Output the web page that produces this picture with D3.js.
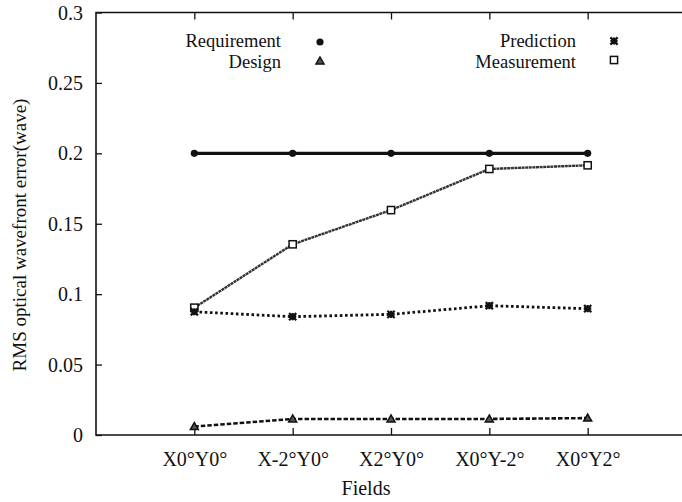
<!DOCTYPE html>
<html><head><meta charset="utf-8">
<script src="https://cdn.jsdelivr.net/npm/d3@7"></script>
<style>
html,body{margin:0;padding:0;background:#fff;}
svg text{font-family:"Liberation Serif","Times New Roman",Tinos,serif !important;fill:#111;}
</style></head>
<body>
<svg id="c" width="682" height="502"></svg>
<script>
const categories = ["X0°Y0°","X-2°Y0°","X2°Y0°","X0°Y-2°","X0°Y2°"];
const requirement = [0.2,0.2,0.2,0.2,0.2];
const design = [0.006,0.0114,0.0114,0.0114,0.012];
const prediction = [0.0875,0.084,0.0857,0.0918,0.0897];
const measurement = [0.0904,0.1354,0.1597,0.1889,0.1915];
const yTicks = [0,0.05,0.1,0.15,0.2,0.25,0.3];
const yTickLabels = ["0","0.05","0.1","0.15","0.2","0.25","0.3"];

const FONT = '"Liberation Serif","Times New Roman",Tinos,serif';
const svg = d3.select("#c");
const L = 96, T = 12.5, B = 435, R = 686;
const x = d3.scaleLinear().domain([-1,5]).range([L,R]);
const y = d3.scaleLinear().domain([0,0.3]).range([B,T]);
const fs = 20;

// frame
svg.append("path").attr("d",`M${R},${T}H${L}V${B}H${R}`)
  .attr("fill","none").attr("stroke","#111").attr("stroke-width",1.6);

// left axis
const ga = svg.append("g").attr("transform",`translate(${L},0)`)
  .call(d3.axisLeft(y).tickValues(yTicks).tickSize(-6).tickPadding(13)
    .tickFormat((d,i)=>yTickLabels[i]));
ga.attr("font-family",FONT);
ga.select(".domain").remove();
ga.selectAll("line").attr("stroke","#111").attr("stroke-width",1.3);
ga.selectAll("text").attr("font-size",fs).attr("font-family",FONT).attr("fill","#111").attr("dy","0.33em");

// bottom axis
const idx = d3.range(categories.length);
const gb = svg.append("g").attr("transform",`translate(0,${B})`)
  .call(d3.axisBottom(x).tickValues(idx).tickSize(-7).tickPadding(17)
    .tickFormat(i=>categories[i]));
gb.attr("font-family",FONT);
gb.select(".domain").remove();
gb.selectAll("line").attr("stroke","#111").attr("stroke-width",1.3);
gb.selectAll("text").attr("font-size",fs).attr("font-family",FONT).attr("fill","#111");

// top ticks
const gt = svg.append("g").attr("transform",`translate(0,${T})`)
  .call(d3.axisTop(x).tickValues(idx).tickSize(-7).tickFormat(""));
gt.select(".domain").remove();
gt.selectAll("line").attr("stroke","#111").attr("stroke-width",1.3);

// axis titles
svg.append("text").attr("x",(L+R)/2 - 25).attr("y",495).attr("text-anchor","middle")
  .attr("font-family",FONT).attr("font-size",fs).text("Fields");
svg.append("text").attr("transform","translate(26,235) rotate(-90)")
  .attr("text-anchor","middle").attr("font-family",FONT).attr("font-size",19).text("RMS optical wavefront error(wave)");

const line = d3.line().x((d,i)=>x(i)).y(d=>y(d));

const series = [
  {name:"Requirement", data:requirement, w:3.2, dash:null, color:"#111", marker:"circle"},
  {name:"Measurement", data:measurement, w:2.4, dash:"3,0.6", color:"#333", marker:"square"},
  {name:"Prediction", data:prediction, w:2.8, dash:"2.6,2.6", color:"#111", marker:"star"},
  {name:"Design", data:design, w:2.6, dash:"4.5,2", color:"#111", marker:"triangle"}
];

function drawMarker(g, type, cx, cy){
  if(type==="circle"){
    g.append("circle").attr("cx",cx).attr("cy",cy).attr("r",3.6).attr("fill","#111");
  } else if(type==="square"){
    g.append("rect").attr("x",cx-3.6).attr("y",cy-3.6).attr("width",7.2).attr("height",7.2)
      .attr("fill","#fff").attr("stroke","#111").attr("stroke-width",1.5);
  } else if(type==="star"){
    const s=3.6;
    g.append("path").attr("d",`M${cx-s},${cy}H${cx+s}M${cx},${cy-s}V${cy+s}M${cx-s},${cy-s}L${cx+s},${cy+s}M${cx-s},${cy+s}L${cx+s},${cy-s}`)
      .attr("stroke","#111").attr("stroke-width",2.2).attr("fill","none");
  } else if(type==="triangle"){
    g.append("path").attr("d",`M${cx},${cy-4}L${cx+4},${cy+3}L${cx-4},${cy+3}Z`)
      .attr("fill","#555").attr("stroke","#111").attr("stroke-width",1.5);
  }
}

series.forEach(s=>{
  svg.append("path").datum(s.data).attr("d",line).attr("fill","none")
    .attr("stroke",s.color).attr("stroke-width",s.w)
    .attr("stroke-dasharray",s.dash);
  const g = svg.append("g");
  s.data.forEach((v,i)=>drawMarker(g,s.marker,x(i),y(v)));
});

// legend
const legend = [
  {name:"Requirement", tx:281, ty:47, mx:320, my:42, marker:"circle"},
  {name:"Design", tx:281, ty:67.5, mx:320, my:61, marker:"triangle"},
  {name:"Prediction", tx:576, ty:47, mx:614, my:41, marker:"star"},
  {name:"Measurement", tx:576, ty:67.5, mx:614, my:60, marker:"square"}
];
const lg = svg.append("g");
legend.forEach(d=>{
  lg.append("text").attr("x",d.tx).attr("y",d.ty).attr("text-anchor","end")
    .attr("font-family",FONT).attr("font-size",18.5).text(d.name);
  drawMarker(lg,d.marker,d.mx,d.my);
});
</script>
</body></html>
